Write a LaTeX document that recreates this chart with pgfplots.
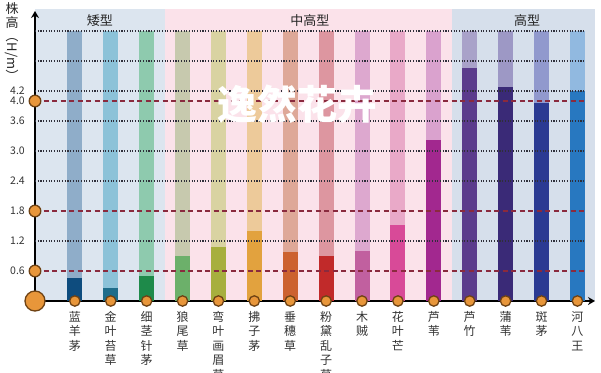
\documentclass[border=0pt]{standalone}
\usepackage{pgfplots}
\pgfplotsset{compat=1.18}
\usetikzlibrary{arrows.meta}
\usepackage{fontspec}
\setmainfont{Noto Sans CJK SC}
\definecolor{bgA}{HTML}{DCE5EF}
\definecolor{bgB}{HTML}{FBE2EA}
\definecolor{bgC}{HTML}{D6DFEB}
\definecolor{dotc}{HTML}{2F2F3A}
\definecolor{dashc}{HTML}{8A2A3E}
\definecolor{mk}{HTML}{E8963A}
\definecolor{mkd}{HTML}{6E4214}
\definecolor{txt}{HTML}{333333}
\definecolor{L1}{HTML}{8FADC9}\definecolor{D1}{HTML}{0E4C7E}
\definecolor{L2}{HTML}{8CC2D8}\definecolor{D2}{HTML}{1F6D8A}
\definecolor{L3}{HTML}{8ECAAE}\definecolor{D3}{HTML}{1E8A4A}
\definecolor{L4}{HTML}{C7C9AE}\definecolor{D4}{HTML}{6CB06A}
\definecolor{L5}{HTML}{D9D3A2}\definecolor{D5}{HTML}{A7AF3E}
\definecolor{L6}{HTML}{EDCA9A}\definecolor{D6}{HTML}{E2A23E}
\definecolor{L7}{HTML}{DEA898}\definecolor{D7}{HTML}{CC6230}
\definecolor{L8}{HTML}{DD96A0}\definecolor{D8}{HTML}{C12A2A}
\definecolor{L9}{HTML}{DDA8CF}\definecolor{D9}{HTML}{C1609F}
\definecolor{L10}{HTML}{E9A9C8}\definecolor{D10}{HTML}{D84A98}
\definecolor{L11}{HTML}{DAA2CE}\definecolor{D11}{HTML}{A2288F}
\definecolor{L12}{HTML}{A9A2C9}\definecolor{D12}{HTML}{5B3C8C}
\definecolor{L13}{HTML}{9D98C5}\definecolor{D13}{HTML}{3A2A77}
\definecolor{L14}{HTML}{9199CD}\definecolor{D14}{HTML}{2B3A92}
\definecolor{L15}{HTML}{91B9E0}\definecolor{D15}{HTML}{2878C0}
\newcommand{\grass}[4]{%
  \addplot[ybar, bar width=15pt, bar shift=0pt, fill=#3, draw=none] coordinates {(#1,5.4)};
  \addplot[ybar, bar width=15pt, bar shift=0pt, fill=#4, draw=none] coordinates {(#1,#2)};
}
\begin{document}
\begin{tikzpicture}
\begin{axis}[
  set layers,
  scale only axis, width=560pt, height=290pt,
  xmin=-0.11, xmax=15.49, ymin=0, ymax=5.8,
  clip=false,
  axis x line=bottom, axis y line=left,
  axis line style={line width=2.5pt, black, -{Stealth[length=7pt,width=8pt]}},
  major tick length=0pt,
  xtick={1,...,15},
  xticklabels={{蓝\\羊\\茅},{金\\叶\\苔\\草},{细\\茎\\针\\茅},{狼\\尾\\草},{弯\\叶\\画\\眉\\草},{拂\\子\\茅},{垂\\穗\\草},{粉\\黛\\乱\\子\\草},{木\\贼},{花\\叶\\芒},{芦\\苇},{芦\\竹},{蒲\\苇},{斑\\茅},{河\\八\\王}},
  xticklabel style={align=center, anchor=north, inner sep=0pt, yshift=-10pt, text=txt, font=\fontsize{12}{14.5}\selectfont},
  ytick={0.6,1.2,1.8,2.4,3.0,3.6,4.0,4.2},
  yticklabels={0.6,1.2,1.8,2.4,3.0,3.6,4.0,4.2},
  yticklabel style={anchor=east, inner sep=0pt, xshift=-10pt, text=txt, font=\fontsize{10.5}{11}\selectfont},
  /pgf/number format/assume math mode=true,
]
% background bands
\addplot[on layer=axis background, fill=bgA, draw=none] coordinates {(-0.11,5.84) (3.5,5.84)} \closedcycle;
\addplot[on layer=axis background, fill=bgB, draw=none] coordinates {(3.5,5.84) (11.5,5.84)} \closedcycle;
\addplot[on layer=axis background, fill=bgC, draw=none] coordinates {(11.5,5.84) (15.49,5.84)} \closedcycle;
% bars: position, height (m), light colour, dark colour
\grass{1}{0.46}{L1}{D1}
\grass{2}{0.26}{L2}{D2}
\grass{3}{0.50}{L3}{D3}
\grass{4}{0.90}{L4}{D4}
\grass{5}{1.08}{L5}{D5}
\grass{6}{1.40}{L6}{D6}
\grass{7}{0.99}{L7}{D7}
\grass{8}{0.90}{L8}{D8}
\grass{9}{1.00}{L9}{D9}
\grass{10}{1.52}{L10}{D10}
\grass{11}{3.22}{L11}{D11}
\grass{12}{4.66}{L12}{D12}
\grass{13}{4.28}{L13}{D13}
\grass{14}{3.96}{L14}{D14}
\grass{15}{4.20}{L15}{D15}
% grid lines
\pgfplotsinvokeforeach{1.2,2.4,3.0,3.6,4.2,4.8,5.4}{
  \addplot[dotc, line width=1.1pt, dash pattern=on 1.1pt off 1.6pt] coordinates {(-0.11,#1) (15.18,#1)};
}
\pgfplotsinvokeforeach{0.6,1.8,4.0}{
  \addplot[dashc, line width=1.2pt, dash pattern=on 5pt off 3.5pt] coordinates {(-0.11,#1) (15.18,#1)};
}
% markers
\addplot[only marks, mark=*, mark size=5.2pt, mark options={fill=mk, draw=mkd, line width=1.3pt}]
  coordinates {(1,0) (2,0) (3,0) (4,0) (5,0) (6,0) (7,0) (8,0) (9,0) (10,0) (11,0) (12,0) (13,0) (14,0) (15,0)};
\addplot[only marks, mark=*, mark size=5.8pt, mark options={fill=mk, draw=mkd, line width=1.3pt}]
  coordinates {(-0.11,0.6) (-0.11,1.8) (-0.11,4.0)};
\addplot[only marks, mark=*, mark size=10pt, mark options={fill=mk, draw=mkd, line width=1.3pt}]
  coordinates {(-0.11,0)};
% texts
\node[font=\fontsize{13}{13}\selectfont, text=black!85] at (axis cs:1.7,5.6) {矮型};
\node[font=\fontsize{13}{13}\selectfont, text=black!85] at (axis cs:7.55,5.6) {中高型};
\node[font=\fontsize{13}{13}\selectfont, text=black!85] at (axis cs:13.6,5.6) {高型};
\node[anchor=north, align=center, inner sep=0pt, text=black!85, font=\fontsize{13}{14.5}\selectfont] at (axis cs:-0.75,5.98) {株\\高\\\rotatebox[origin=c]{-90}{（H/m）}};
\node[font=\fontsize{40}{40}\selectfont\bfseries, text=white] at (axis cs:7.19,3.94) {逸然花卉};
\end{axis}
\pgfresetboundingbox
\path[use as bounding box] (-35pt,-71pt) rectangle (566pt,301pt);
\end{tikzpicture}
\end{document}
